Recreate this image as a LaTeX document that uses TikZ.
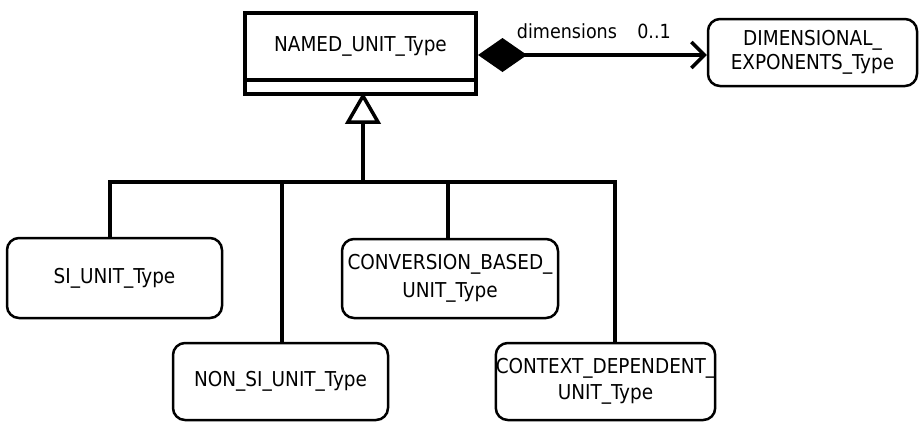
\documentclass[tikz,border=0pt]{standalone}
\usepackage{fontspec}
\setmainfont{DejaVu Sans Condensed}
\usetikzlibrary{arrows.meta,calc}
\begin{document}
\begin{tikzpicture}[x=1pt,y=-1pt,
  txt/.style={font=\fontsize{20.5}{24}\selectfont},
  cls/.style={draw, line width=2.5pt, rounded corners=12pt, align=center, txt, inner sep=0pt},
  lbl/.style={font=\fontsize{19.5}{23}\selectfont, inner sep=0pt, anchor=base},
  conn/.style={line width=3.5pt, line join=miter}]
\useasboundingbox (0,0) rectangle (919,424);
% parent class
\node[draw, line width=4pt, outer sep=0pt, minimum width=231pt, minimum height=67pt, txt, inner sep=0pt] (named) at (360.5,46.5) {NAMED\_UNIT\_Type};
\draw[line width=4pt] (named.south west) rectangle ++(231,14);
\coordinate (nbot) at (363,96);
\coordinate (nright) at (478,55);
% associated class
\node[cls, minimum width=209pt, minimum height=67pt] (dim) at (812.5,52.5) {DIMENSIONAL\_\\EXPONENTS\_Type};
% subclasses
\node[cls, minimum width=215pt, minimum height=80pt] (si) at (114.5,278) {SI\_UNIT\_Type};
\node[cls, minimum width=215pt, minimum height=77pt] (nonsi) at (280.5,381.5) {NON\_SI\_UNIT\_Type};
\node[cls, minimum width=216pt, minimum height=79pt, font=\fontsize{20.5}{28}\selectfont] (conv) at (450,278.5) {CONVERSION\_BASED\_\\UNIT\_Type};
\node[cls, minimum width=215pt, minimum height=77pt, font=\fontsize{20.5}{25.5}\selectfont] (ctx) at (605.5,381.5) {CONTEXT\_DEPENDENT\_\\UNIT\_Type};
% composition
\draw[conn, {Diamond[length=49pt,width=34pt]}-{Straight Barb[length=13pt,width=26pt]}] (nright) -- (dim.west |- nright);
\node[lbl] (rolename) at (567,38) {dimensions};
\node[lbl] (mult) at (654,38) {0..1};
% generalization
\coordinate (join) at (363,182);
\coordinate (tbase) at (363,122);
\coordinate (tl) at (348,122);
\coordinate (tr) at (378,122);
\coordinate (busL) at (110,182);
\coordinate (busR) at (615,182);
\coordinate (d2) at (282,182);
\coordinate (d3) at (448,182);
\draw[conn] (join) -- (tbase);
\draw[conn, line join=miter] (nbot) -- (tl) -- (tr) -- cycle;
\draw[conn] (si.north -| busL) -- (busL) -- (busR) -- (ctx.north -| busR);
\draw[conn] (d2) -- (nonsi.north -| d2);
\draw[conn] (d3) -- (conv.north -| d3);
\end{tikzpicture}
\end{document}
